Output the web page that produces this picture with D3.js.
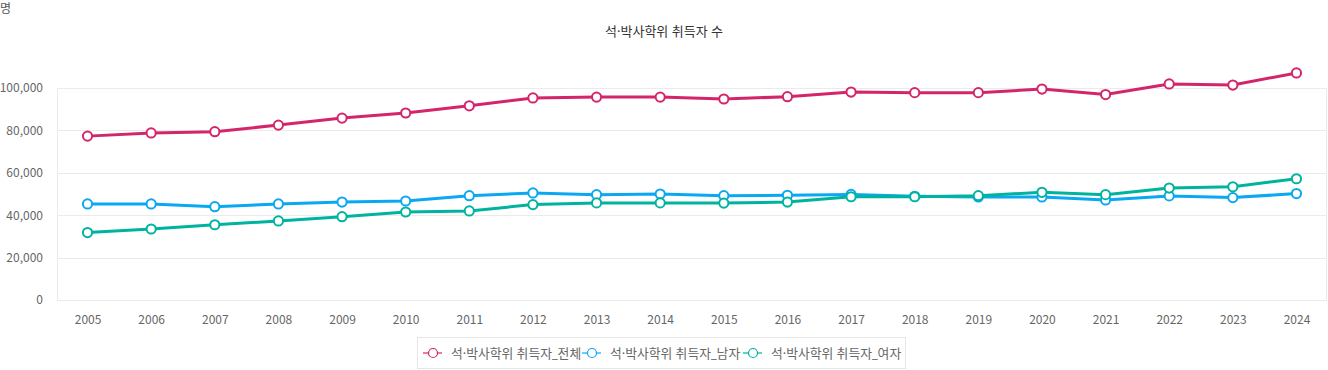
<!DOCTYPE html>
<html>
<head>
<meta charset="utf-8">
<script src="https://cdn.jsdelivr.net/npm/d3@7"></script>
<style>
  body { margin: 0; background: #fff; }
  svg { font-family: "Noto Sans CJK KR", "Noto Sans", sans-serif; }
  .label { font-family: "Noto Sans", "Noto Sans CJK KR", sans-serif; }
</style>
</head>
<body>
<div id="chart-area"></div>
<script>
// data
var years = [2005,2006,2007,2008,2009,2010,2011,2012,2013,2014,2015,2016,2017,2018,2019,2020,2021,2022,2023,2024];
var total  = [77300,78800,79400,82500,85800,88200,91600,95300,95700,95700,94800,95900,98100,97800,97800,99500,96900,101900,101400,107100];
var male   = [45300,45300,44000,45300,46200,46700,49200,50500,49700,50000,49200,49400,49800,48900,48600,48600,47200,49100,48300,50200];
var female = [31800,33500,35500,37300,39300,41500,42000,45000,45800,45800,45700,46200,48700,48700,49200,50800,49700,52800,53400,57200];
var seriesNames = ["석·박사학위 취득자_전체","석·박사학위 취득자_남자","석·박사학위 취득자_여자"];
var seriesColors = ["#d4256c","#0aa8f2","#00b39f"];
var yTicks = [0,20000,40000,60000,80000,100000];

var W = 1328, H = 370;
var plot = {left: 57, right: 1327, top: 88, bottom: 300};

var svg = d3.select("#chart-area").append("svg").attr("width", W).attr("height", H);

var x = d3.scalePoint().domain(years).range([plot.left, plot.right]).padding(0.48);
var y = d3.scaleLinear().domain([0, 100000]).range([plot.bottom, plot.top]);

// unit + title
svg.append("text").attr("x", 0).attr("y", 13).style("font-size", "12px").attr("fill", "#555").text("명");
svg.append("text").attr("class", "label").attr("x", 664).attr("y", 36).attr("text-anchor", "middle")
   .style("font-size", "13px").attr("fill", "#333").text("석·박사학위 취득자 수");

// gridlines + frame
svg.append("g").selectAll("line").data(yTicks).enter().append("line")
   .attr("x1", plot.left).attr("x2", plot.right)
   .attr("y1", function(d){ return Math.round(y(d)) + 0.5; }).attr("y2", function(d){ return Math.round(y(d)) + 0.5; })
   .attr("stroke", "#ebebeb");
svg.append("line").attr("x1", plot.left + 0.5).attr("x2", plot.left + 0.5).attr("y1", plot.top).attr("y2", plot.bottom).attr("stroke", "#ebebeb");
svg.append("line").attr("x1", plot.right - 0.5).attr("x2", plot.right - 0.5).attr("y1", plot.top).attr("y2", plot.bottom).attr("stroke", "#ebebeb");

// y axis
var yAxis = svg.append("g").attr("transform", "translate(" + (plot.left - 14) + ",0)")
   .call(d3.axisLeft(y).tickValues(yTicks).tickSize(0).tickPadding(0).tickFormat(d3.format(",")))
   .attr("font-family", null).attr("font-size", null);
yAxis.select(".domain").remove();
yAxis.selectAll("text").style("font-size", "12px").attr("fill", "#666");

// x axis
var xAxis = svg.append("g").attr("transform", "translate(0," + plot.bottom + ")")
   .call(d3.axisBottom(x).tickSize(0).tickPadding(15))
   .attr("font-family", null).attr("font-size", null);
xAxis.select(".domain").remove();
xAxis.selectAll("text").style("font-size", "12px").attr("fill", "#666");

// lines
var allSeries = [total, male, female];
var line = d3.line().x(function(d, i){ return x(years[i]); }).y(function(d){ return y(d); });

allSeries.forEach(function(vals, k){
  svg.append("path").datum(vals).attr("d", line)
     .attr("fill", "none").attr("stroke", seriesColors[k]).attr("stroke-width", 3);
});
allSeries.forEach(function(vals, k){
  svg.append("g").selectAll("circle").data(vals).enter().append("circle")
     .attr("cx", function(d, i){ return x(years[i]); })
     .attr("cy", function(d){ return y(d); })
     .attr("r", 4.6)
     .attr("fill", "#fff").attr("stroke", seriesColors[k]).attr("stroke-width", 2);
});

// legend
var lg = svg.append("g");
lg.append("rect").attr("x", 417.5).attr("y", 337.5).attr("width", 488).attr("height", 31)
  .attr("fill", "#fff").attr("stroke", "#e6e6e6");
var legX = [423, 582, 743];
seriesNames.forEach(function(name, k){
  var g = lg.append("g").attr("transform", "translate(" + legX[k] + ",353)");
  g.append("line").attr("x1", 0).attr("x2", 19).attr("y1", 0).attr("y2", 0).attr("stroke", seriesColors[k]).attr("stroke-width", 1.2);
  g.append("circle").attr("cx", 10).attr("cy", 0).attr("r", 4.5).attr("fill", "#fff").attr("stroke", seriesColors[k]).attr("stroke-width", 1.2);
  g.append("text").attr("class", "label").attr("x", 28).attr("y", 4.5).style("font-size", "12.8px").attr("fill", "#666").text(name);
});
</script>
</body>
</html>
